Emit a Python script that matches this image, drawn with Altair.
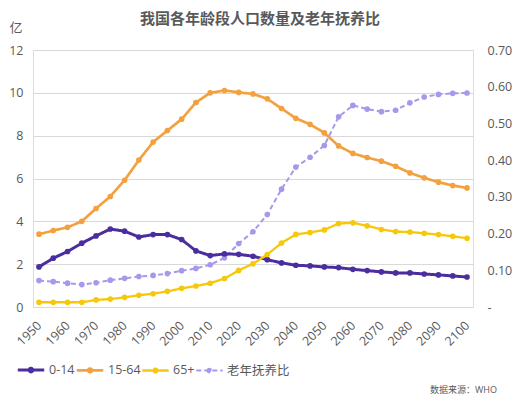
import pandas as pd
import altair as alt

# 数据：每5年一个点 (单位：亿；老年抚养比为比例)
years = [1950, 1955, 1960, 1965, 1970, 1975, 1980, 1985, 1990, 1995, 2000,
         2005, 2010, 2015, 2020, 2025, 2030, 2035, 2040, 2045, 2050,
         2055, 2060, 2065, 2070, 2075, 2080, 2085, 2090, 2095, 2100]
label_years = [1950, 1960, 1970, 1980, 1990, 2000, 2010, 2020,
               2030, 2040, 2050, 2060, 2070, 2080, 2090, 2100]

age_0_14 = [1.87, 2.28, 2.59, 2.98, 3.32, 3.64, 3.54, 3.27, 3.38, 3.38, 3.15,
            2.62, 2.40, 2.48, 2.46, 2.37, 2.21, 2.06, 1.95, 1.92, 1.87,
            1.84, 1.76, 1.70, 1.64, 1.59, 1.59, 1.54, 1.50, 1.45, 1.40]
age_15_64 = [3.40, 3.57, 3.72, 4.00, 4.60, 5.16, 5.92, 6.86, 7.70, 8.24, 8.77,
             9.55, 10.00, 10.11, 10.02, 9.95, 9.72, 9.27, 8.81, 8.53, 8.13,
             7.52, 7.17, 6.98, 6.81, 6.57, 6.26, 6.03, 5.83, 5.67, 5.56]
age_65 = [0.22, 0.22, 0.22, 0.22, 0.33, 0.37, 0.45, 0.55, 0.62, 0.73, 0.87,
          0.98, 1.11, 1.33, 1.71, 2.02, 2.45, 2.99, 3.39, 3.48, 3.60,
          3.90, 3.93, 3.79, 3.62, 3.52, 3.50, 3.44, 3.38, 3.30, 3.21]
ratio = [0.072, 0.069, 0.065, 0.061, 0.066, 0.073, 0.078, 0.083, 0.086, 0.091, 0.099,
         0.105, 0.115, 0.134, 0.173, 0.205, 0.252, 0.321, 0.381, 0.408, 0.440,
         0.518, 0.549, 0.539, 0.532, 0.536, 0.556, 0.572, 0.579, 0.582, 0.583]

names = ["0-14", "15-64", "65+", "老年抚养比"]
colors = ["#4b2d9f", "#f2a13e", "#f6c80c", "#a898ec"]

df = pd.DataFrame({
    "year": years * 4,
    "value": age_0_14 + age_15_64 + age_65 + ratio,
    "group": [n for n in names for _ in years],
})

grey = "#595959"
font = "'Open Sans', 'Noto Sans CJK SC', sans-serif"

legend = alt.Legend(
    title=None, orient="none", legendX=-17, legendY=305, direction="horizontal",
    symbolType="M-1,0L1,0M-0.14,0A0.14,0.14,0,1,1,0.14,0A0.14,0.14,0,1,1,-0.14,0Z",
    symbolSize=700, symbolStrokeWidth=2.5, labelFontSize=12.5, labelColor=grey,
    labelOffset=3, columnPadding=-4,
)

color = alt.Color("group:N", scale=alt.Scale(domain=names, range=colors), legend=legend)
dash = alt.StrokeDash("group:N", scale=alt.Scale(domain=names, range=[[1, 0], [1, 0], [1, 0], [5, 3]]),
                      legend=legend)
width = alt.StrokeWidth("group:N", scale=alt.Scale(domain=names, range=[3, 2, 2, 2]), legend=None)

x = alt.X("year:Q", title=None,
          scale=alt.Scale(domain=[1947.9, 2102.1], nice=False, zero=False),
          axis=alt.Axis(values=label_years, format="d", labelAngle=-45, labelAlign="right",
                        labelBaseline="middle", labelPadding=16, labelFontSize=12.5,
                        labelOverlap=False, labelColor=grey, grid=False, domain=False, ticks=False))

base = alt.Chart(df)
pts = alt.OverlayMarkDef(size=32, filled=True)

right = base.transform_filter(alt.datum.group == "老年抚养比").mark_line(point=pts).encode(
    x=x,
    y=alt.Y("value:Q", scale=alt.Scale(domain=[0, 0.7], nice=False),
            axis=alt.Axis(orient="right", values=[0, 0.1, 0.2, 0.3, 0.4, 0.5, 0.6, 0.7],
                          labelExpr="datum.value == 0 ? '-' : format(datum.value, '.2f')",
                          labelPadding=14, labelFontSize=12.5, labelColor=grey, labelAlign="left",
                          grid=False, domain=False, ticks=False, title=None)),
    color=color, strokeDash=dash, strokeWidth=width,
)

left = base.transform_filter(alt.datum.group != "老年抚养比").mark_line(point=pts).encode(
    x=x,
    y=alt.Y("value:Q", scale=alt.Scale(domain=[0, 12], nice=False),
            axis=alt.Axis(values=[0, 2, 4, 6, 8, 10, 12], grid=True, gridColor="#d9d9d9",
                          domain=False, ticks=False, labelPadding=10, labelFontSize=12.5,
                          labelColor=grey, title="亿", titleAngle=0, titleX=-24, titleY=-23,
                          titleAlign="left", titleBaseline="middle", titleFontSize=13,
                          titleFontWeight="normal", titleColor=grey)),
    color=color, strokeDash=dash, strokeWidth=width,
)

source = alt.Chart(pd.DataFrame({"t": ["数据来源：WHO"]})).mark_text(
    align="right", baseline="middle", fontSize=9, color=grey
).encode(x=alt.value(464), y=alt.value(340), text="t:N")

chart = alt.layer(right, left, source).resolve_scale(y="independent").properties(
    width=440, height=257,
    autosize=alt.AutoSizeParams(type="none"),
    padding={"left": 25, "top": 42, "right": 40, "bottom": 88},
    title=alt.TitleParams("我国各年龄段人口数量及老年抚养比", fontSize=15, fontWeight="bold",
                          color=grey, anchor="middle", dx=7, dy=10),
).configure_view(stroke=None).configure(font=font)

chart.save("out.html", embed_options={"renderer": "svg", "actions": False})
